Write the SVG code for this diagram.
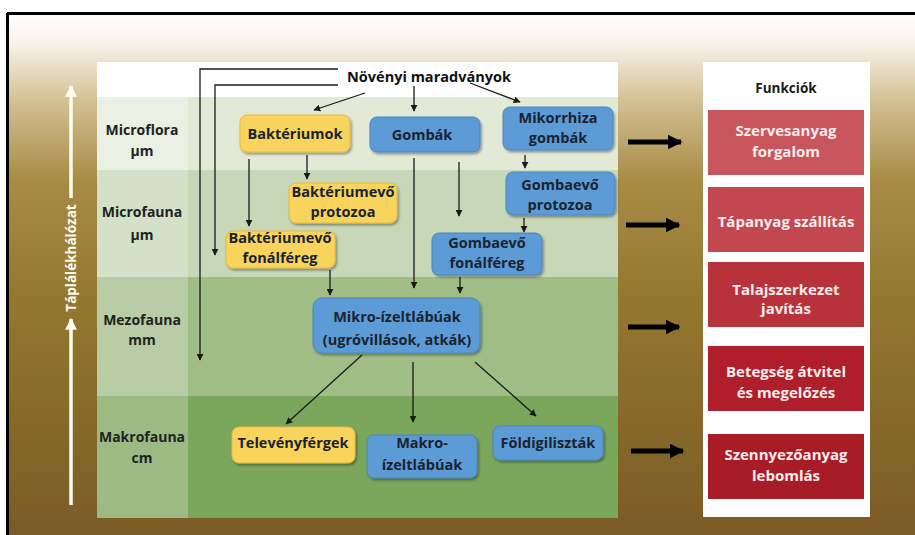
<svg xmlns="http://www.w3.org/2000/svg" width="915" height="535" viewBox="0 0 915 535">
<defs>
<linearGradient id="bg" x1="0" y1="13" x2="0" y2="535" gradientUnits="userSpaceOnUse">
<stop offset="0" stop-color="#ffffff"/>
<stop offset="0.06" stop-color="#f7f3e8"/>
<stop offset="0.17" stop-color="#d2bf93"/>
<stop offset="0.32" stop-color="#a88b45"/>
<stop offset="0.55" stop-color="#94772f"/>
<stop offset="1" stop-color="#7b5b25"/>
</linearGradient>
<filter id="sh" x="-10%" y="-10%" width="130%" height="140%">
<feDropShadow dx="1.5" dy="2" stdDeviation="1.2" flood-color="#000" flood-opacity="0.35"/>
</filter>
<marker id="ah" viewBox="0 0 10 10" refX="9" refY="5" markerWidth="7" markerHeight="7" markerUnits="userSpaceOnUse" orient="auto">
<path d="M0,0 L10,5 L0,10 z" fill="#1a1a1a"/>
</marker>
<marker id="big" viewBox="0 0 10 10" refX="9" refY="5" markerWidth="3" markerHeight="3" orient="auto">
<path d="M0,0 L10,5 L0,10 z" fill="#000"/>
</marker>
<marker id="wh" viewBox="0 0 10 10" refX="9" refY="5" markerWidth="3.4" markerHeight="3.4" orient="auto">
<path d="M0,0 L10,5 L0,10 z" fill="#fffdf2"/>
</marker>
</defs>
<style>
text{font-family:"Open Sans","Noto Sans","Liberation Sans",sans-serif;font-weight:bold;text-anchor:middle}
.lbl{font-size:14px;fill:#222}
.nt{font-size:14.5px;fill:#1b2330}
.ft{font-size:15px;fill:#fbecec}
.yel{fill:#f9d45b;stroke:#e6b93c;stroke-width:1}
.blu{fill:#5b9bd5;stroke:#4a86bf;stroke-width:1}
.c{stroke:#1a1a1a;stroke-width:1.3;fill:none}
</style>
<rect x="0" y="0" width="915" height="535" fill="#ffffff"/>
<rect x="7" y="13" width="908" height="522" fill="url(#bg)"/>
<line x1="7" y1="13.5" x2="915" y2="13.5" stroke="#000" stroke-width="3"/>
<line x1="7.5" y1="13" x2="7.5" y2="535" stroke="#000" stroke-width="3"/>

<g id="panel">
<rect x="97" y="62" width="521" height="35" fill="#ffffff"/>
<rect x="97" y="97" width="521" height="73" fill="#e2e9d6"/>
<rect x="97" y="170" width="521" height="107" fill="#c8d7b7"/>
<rect x="97" y="277" width="521" height="119" fill="#a1bd86"/>
<rect x="97" y="396" width="521" height="122" fill="#7aa75c"/>
<rect x="97" y="97" width="91" height="73" fill="#ebf0e4"/>
<rect x="97" y="170" width="91" height="107" fill="#d4e0c8"/>
<rect x="97" y="277" width="91" height="119" fill="#b8cca5"/>
<rect x="97" y="396" width="91" height="122" fill="#9cbb84"/>
</g>

<g id="rowlabels">
<text class="lbl" x="142" y="135">Microflora</text>
<text class="lbl" x="142" y="156">µm</text>
<text class="lbl" x="142" y="217">Microfauna</text>
<text class="lbl" x="142" y="240">µm</text>
<text class="lbl" x="142" y="325">Mezofauna</text>
<text class="lbl" x="142" y="345">mm</text>
<text class="lbl" x="142" y="442">Makrofauna</text>
<text class="lbl" x="142" y="463">cm</text>
</g>

<g id="foodweb-axis">
<line x1="71" y1="198" x2="71" y2="86" stroke="#fffdf2" stroke-width="3.5" marker-end="url(#wh)"/>
<line x1="71" y1="505" x2="71" y2="319" stroke="#fffdf2" stroke-width="3.5" marker-end="url(#wh)"/>
<text x="71" y="258" transform="rotate(-90 71 258)" dy="5" style="font-size:13.5px;fill:#fffaf0">Táplálékhálózat</text>
</g>

<g id="connectors">
<polyline class="c" points="338,69 200,69 200,360" marker-end="url(#ah)"/>
<polyline class="c" points="338,85 215,85 215,255" marker-end="url(#ah)"/>
<line class="c" x1="365" y1="93" x2="314" y2="110" marker-end="url(#ah)"/>
<line class="c" x1="414" y1="86" x2="414" y2="111" marker-end="url(#ah)"/>
<line class="c" x1="470" y1="83" x2="520" y2="102" marker-end="url(#ah)"/>
<line class="c" x1="307" y1="155" x2="307" y2="179" marker-end="url(#ah)"/>
<line class="c" x1="249" y1="159" x2="249" y2="226" marker-end="url(#ah)"/>
<line class="c" x1="459" y1="162" x2="459" y2="216" marker-end="url(#ah)"/>
<line class="c" x1="414" y1="158" x2="414" y2="288" marker-end="url(#ah)"/>
<line class="c" x1="525" y1="155" x2="525" y2="168" marker-end="url(#ah)"/>
<line class="c" x1="524" y1="218" x2="524" y2="232" marker-end="url(#ah)"/>
<line class="c" x1="330" y1="270" x2="330" y2="295" marker-end="url(#ah)"/>
<line class="c" x1="460" y1="277" x2="460" y2="293" marker-end="url(#ah)"/>
<line class="c" x1="362" y1="355" x2="286" y2="424" marker-end="url(#ah)"/>
<line class="c" x1="413" y1="362" x2="413" y2="422" marker-end="url(#ah)"/>
<line class="c" x1="475" y1="362" x2="536" y2="416" marker-end="url(#ah)"/>
<line x1="628" y1="142" x2="681" y2="142" stroke="#000" stroke-width="5" marker-end="url(#big)"/>
<line x1="626" y1="225" x2="679" y2="225" stroke="#000" stroke-width="5" marker-end="url(#big)"/>
<line x1="628" y1="327" x2="679" y2="327" stroke="#000" stroke-width="5" marker-end="url(#big)"/>
<line x1="631" y1="451" x2="683" y2="451" stroke="#000" stroke-width="5" marker-end="url(#big)"/>
</g>

<g id="n-noveny">
<text class="nt" x="429" y="82" style="fill:#111">Növényi maradványok</text>
</g>
<g id="n-bakt">
<rect class="yel" x="240" y="115" width="110" height="37" rx="7" filter="url(#sh)"/>
<text class="nt" x="295" y="139">Baktériumok</text>
</g>
<g id="n-gomba">
<rect class="blu" x="370" y="117" width="110" height="35" rx="7" filter="url(#sh)"/>
<text class="nt" x="422" y="140">Gombák</text>
</g>
<g id="n-mikorrhiza">
<rect class="blu" x="503" y="107" width="110" height="43" rx="7" filter="url(#sh)"/>
<text class="nt" x="558" y="123">Mikorrhiza</text>
<text class="nt" x="558" y="143">gombák</text>
</g>
<g id="n-baktproto">
<rect class="yel" x="289" y="183" width="108" height="40" rx="7" filter="url(#sh)"/>
<text class="nt" x="343" y="197">Baktériumevő</text>
<text class="nt" x="343" y="217">protozoa</text>
</g>
<g id="n-baktfonal">
<rect class="yel" x="226" y="231" width="109" height="37" rx="7" filter="url(#sh)"/>
<text class="nt" x="280" y="243">Baktériumevő</text>
<text class="nt" x="280" y="263">fonálféreg</text>
</g>
<g id="n-gombaproto">
<rect class="blu" x="506" y="172" width="109" height="43" rx="7" filter="url(#sh)"/>
<text class="nt" x="560" y="190">Gombaevő</text>
<text class="nt" x="560" y="210">protozoa</text>
</g>
<g id="n-gombafonal">
<rect class="blu" x="432" y="233" width="110" height="42" rx="7" filter="url(#sh)"/>
<text class="nt" x="487" y="248">Gombaevő</text>
<text class="nt" x="487" y="268">fonálféreg</text>
</g>
<g id="n-mikro">
<rect class="blu" x="313" y="298" width="167" height="55" rx="9" filter="url(#sh)"/>
<text class="nt" x="397" y="322">Mikro-ízeltlábúak</text>
<text class="nt" x="397" y="345">(ugróvillások, atkák)</text>
</g>
<g id="n-televeny">
<rect class="yel" x="232" y="427" width="123" height="36" rx="7" filter="url(#sh)"/>
<text class="nt" x="293" y="448">Televényférgek</text>
</g>
<g id="n-makro">
<rect class="blu" x="367" y="435" width="110" height="43" rx="7" filter="url(#sh)"/>
<text class="nt" x="422" y="448">Makro-</text>
<text class="nt" x="422" y="470">ízeltlábúak</text>
</g>
<g id="n-foldi">
<rect class="blu" x="493" y="426" width="110" height="34" rx="7" filter="url(#sh)"/>
<text class="nt" x="548" y="448">Földigiliszták</text>
</g>

<g id="functions">
<rect x="703" y="62" width="167" height="455" fill="#ffffff"/>
<text class="nt" x="786" y="93" style="fill:#1a1a1a;font-size:13.5px">Funkciók</text>
</g>
<g id="f1">
<rect x="708" y="110" width="156" height="65" fill="#c9555c"/>
<text class="ft" x="786" y="136">Szervesanyag</text>
<text class="ft" x="786" y="157">forgalom</text>
</g>
<g id="f2">
<rect x="708" y="187" width="156" height="65" fill="#c2474f"/>
<text class="ft" x="786" y="227">Tápanyag szállítás</text>
</g>
<g id="f3">
<rect x="708" y="262" width="156" height="65" fill="#b7323b"/>
<text class="ft" x="786" y="295">Talajszerkezet</text>
<text class="ft" x="786" y="314">javítás</text>
</g>
<g id="f4">
<rect x="708" y="346" width="156" height="65" fill="#ae1f2b"/>
<text class="ft" x="786" y="377">Betegség átvitel</text>
<text class="ft" x="786" y="398">és megelőzés</text>
</g>
<g id="f5">
<rect x="708" y="434" width="156" height="65" fill="#a81c27"/>
<text class="ft" x="786" y="460">Szennyezőanyag</text>
<text class="ft" x="786" y="481">lebomlás</text>
</g>
</svg>
